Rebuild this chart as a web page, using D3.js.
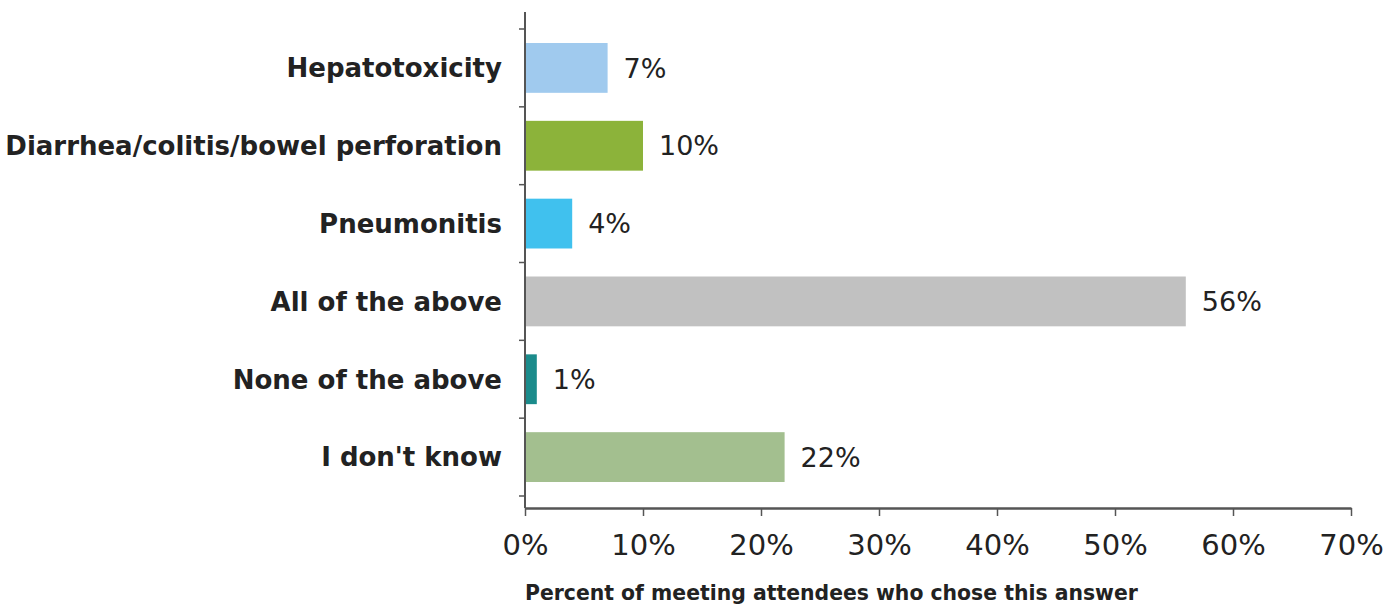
<!DOCTYPE html>
<html>
<head>
<meta charset="utf-8">
<script src="https://cdn.jsdelivr.net/npm/d3@7"></script>
<style>
  body { margin: 0; background: #fff; }
  svg { display: block; }
  .lbl { font-family: "DejaVu Sans", "Liberation Sans", sans-serif; fill: #222; }
</style>
</head>
<body>
<svg id="chart" width="1400" height="605"></svg>
<script>
// answers and share of attendees (%)
var categories = ["Hepatotoxicity", "Diarrhea/colitis/bowel perforation", "Pneumonitis",
                  "All of the above", "None of the above", "I don't know"];
var values = [7, 10, 4, 56, 1, 22];
var barColors = ["#a0caee", "#8cb33a", "#40c1ee", "#c1c1c1", "#1b8b8b", "#a3bf8f"];
var xTicks = [0, 10, 20, 30, 40, 50, 60, 70];
var xTitle = "Percent of meeting attendees who chose this answer";

var svg = d3.select("#chart");
var margin = {top: 29, right: 49, bottom: 109, left: 525};
var width = 1400 - margin.left - margin.right;
var height = 605 - margin.top - margin.bottom;

var x = d3.scaleLinear().domain([0, 70]).range([0, width]);
var y = d3.scaleBand().domain(categories).range([0, height]).paddingInner(0.36).paddingOuter(0.18);

var g = svg.append("g").attr("transform", "translate(" + margin.left + "," + margin.top + ")");

// bars
g.selectAll("rect.bar")
  .data(categories)
  .join("rect")
    .attr("class", "bar")
    .attr("x", 0)
    .attr("y", d => y(d))
    .attr("width", (d, i) => x(values[i]))
    .attr("height", y.bandwidth())
    .attr("fill", (d, i) => barColors[i]);

// value labels
g.selectAll("text.val")
  .data(categories)
  .join("text")
    .attr("class", "lbl val")
    .attr("x", (d, i) => x(values[i]) + 16)
    .attr("y", d => y(d) + y.bandwidth() / 2)
    .attr("dy", "0.36em")
    .style("font-size", "27px")
    .text((d, i) => values[i] + "%");

// category labels
g.selectAll("text.cat")
  .data(categories)
  .join("text")
    .attr("class", "lbl cat")
    .attr("x", -23)
    .attr("y", d => y(d) + y.bandwidth() / 2)
    .attr("dy", "0.36em")
    .attr("text-anchor", "end")
    .style("font-size", "26px")
    .style("font-weight", "bold")
    .text(d => d);

// y axis: line with ticks at band edges
var axisColor = "#555";
var edges = categories.map(d => y(d) - y.step() * y.paddingInner() / 2);
edges.push(height);
g.append("line")
  .attr("x1", 0).attr("x2", 0)
  .attr("y1", -17).attr("y2", height + 12)
  .attr("stroke", axisColor).attr("stroke-width", 2);
g.selectAll("line.ytick")
  .data(edges)
  .join("line")
    .attr("class", "ytick")
    .attr("x1", -6).attr("x2", 0)
    .attr("y1", d => d).attr("y2", d => d)
    .attr("stroke", axisColor).attr("stroke-width", 1.5);

// x axis
var xAxis = g.append("g")
  .attr("transform", "translate(0," + (height + 12) + ")")
  .call(d3.axisBottom(x).tickValues(xTicks).tickFormat(d => d + "%").tickSize(8).tickSizeOuter(0));
xAxis.select(".domain").attr("stroke", axisColor).attr("stroke-width", 2.5);
xAxis.selectAll(".tick line").attr("stroke", axisColor).attr("stroke-width", 1.5);
xAxis.selectAll(".tick text")
  .attr("class", "lbl")
  .attr("y", 47)
  .attr("dy", 0)
  .style("font-size", "29px")
  .attr("fill", "#222");

svg.append("text")
  .attr("class", "lbl")
  .attr("x", margin.left)
  .attr("y", 600)
  .style("font-size", "20.4px")
  .style("font-weight", "bold")
  .text(xTitle);
</script>
</body>
</html>
